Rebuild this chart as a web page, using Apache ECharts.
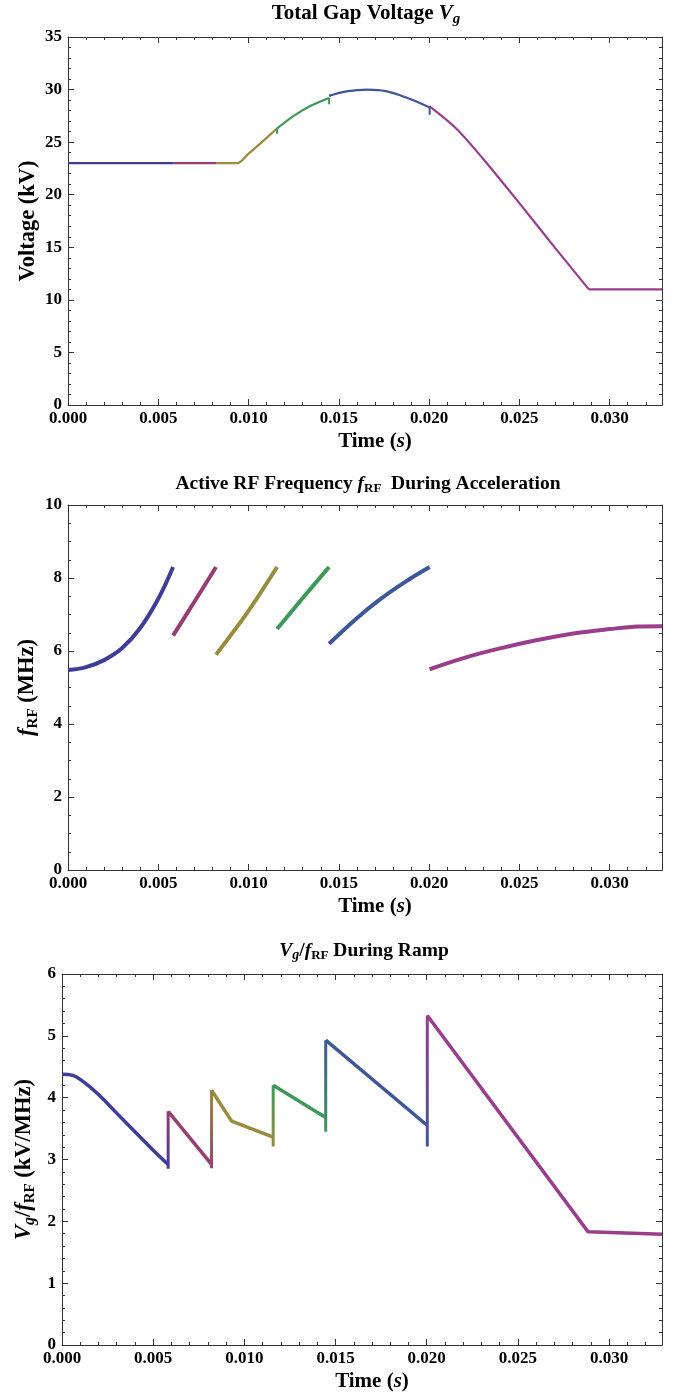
<!DOCTYPE html>
<html>
<head>
<meta charset="utf-8">
<script src="https://cdn.jsdelivr.net/npm/echarts@6/dist/echarts.min.js"></script>
<style>
  html, body { margin: 0; padding: 0; background: #fff; }
  #main { width: 677px; height: 1397px; }
</style>
</head>
<body>
<div id="main"></div>
<script>
// ---- data (time in s) ----
var XMAX = 0.0329;
var timeTicks = [0, 0.005, 0.010, 0.015, 0.020, 0.025, 0.030];
var vgTicks = [0, 5, 10, 15, 20, 25, 30, 35];
var frTicks = [0, 2, 4, 6, 8, 10];
var ratioTicks = [0, 1, 2, 3, 4, 5, 6];

// total gap voltage (kV)
var vgBlue1   = [[0, 23], [0.00582, 23]];
var vgMagenta = [[0.00582, 23], [0.0082, 23]];
var vgOlive   = [[0.0082, 23], [0.00936, 23], [0.0100, 23.9], [0.0108, 25.1], [0.01158, 26.3]];
var vgGreen   = [[0.01158, 26.3], [0.0125, 27.5], [0.0135, 28.5], [0.01446, 29.2]];
var vgBlue2   = [[0.01446, 29.4], [0.0155, 29.85], [0.0166, 30.0], [0.0176, 29.85], [0.0188, 29.2], [0.02003, 28.3]];
var vgPurple  = [[0.02003, 28.4], [0.0215, 26.3], [0.023, 23.4], [0.025, 19.2], [0.027, 14.9], [0.02885, 11]];
var vgFlat    = [[0.02885, 11], [0.0329, 11]];
var vgHooks   = [[0.01158, 26.3, 25.8], [0.01446, 29.2, 28.6], [0.02003, 28.35, 27.6]];

// active RF frequency (MHz)
var frBlue1   = [[0, 5.48], [0.001, 5.56], [0.002, 5.75], [0.003, 6.08], [0.004, 6.63], [0.005, 7.43], [0.00582, 8.3]];
var frMagenta = [[0.00582, 6.42], [0.007, 7.35], [0.0082, 8.3]];
var frOlive   = [[0.0082, 5.9], [0.0100, 7.1], [0.01158, 8.3]];
var frGreen   = [[0.01158, 6.6], [0.0130, 7.45], [0.01446, 8.3]];
var frBlue2   = [[0.01446, 6.2], [0.0160, 6.9], [0.0173, 7.42], [0.0187, 7.9], [0.02003, 8.3]];
var frPurple  = [[0.02003, 5.5], [0.022, 5.82], [0.024, 6.08], [0.026, 6.3], [0.028, 6.48], [0.030, 6.6], [0.0316, 6.67], [0.0329, 6.68]];

// Vg / fRF (kV/MHz)
var rBlue1   = [[0, 4.38], [0.0006, 4.36], [0.0012, 4.25], [0.002, 4.05], [0.003, 3.75], [0.004, 3.45], [0.005, 3.15], [0.00582, 2.92]];
var rMagenta = [[0.00582, 3.78], [0.0082, 2.92]];
var rOlive   = [[0.0082, 4.12], [0.0093, 3.62], [0.01158, 3.36]];
var rGreen   = [[0.01158, 4.2], [0.01446, 3.68]];
var rBlue2   = [[0.01446, 4.93], [0.02003, 3.55]];
var rPurple  = [[0.02003, 5.33], [0.02885, 1.83], [0.0329, 1.79]];
var rJumps   = [[0.00582, 2.85, 3.78], [0.0082, 2.86, 4.12], [0.01158, 3.21, 4.2], [0.01446, 3.45, 4.93], [0.02003, 3.21, 5.33]];

// mathematica default plot colours
var BLUE = '#3e3d99', MAG = '#993d71', OLIVE = '#998d3d', GREEN = '#3d9958', BLUE2 = '#3d5799', PURPLE = '#993d8c';

var FONT = 'Liberation Serif';
var AXC = '#333';

function minors(min, max, step) {
  var out = [];
  for (var v = min; v <= max + 1e-12; v += step) out.push(Math.round(v * 1e6) / 1e6);
  return out;
}

// rich text styles for a given base size (subscripts sit lower via bottom alignment)
function makeRich(size) {
  var lh = Math.round(size * 1.18);
  var ss = Math.round(size * 0.66);
  return {
    b: { fontFamily: FONT, fontWeight: 'bold', fontSize: size, lineHeight: lh, color: '#000' },
    i: { fontFamily: FONT, fontWeight: 'bold', fontStyle: 'italic', fontSize: size, lineHeight: lh, color: '#000' },
    si: { fontFamily: FONT, fontWeight: 'bold', fontStyle: 'italic', fontSize: ss + 1, lineHeight: ss + 1, verticalAlign: 'bottom', color: '#000' },
    s: { fontFamily: FONT, fontWeight: 'bold', fontSize: ss, lineHeight: ss + 1, verticalAlign: 'bottom', color: '#000' }
  };
}
var richX = makeRich(21);
var richY = makeRich(22.5);

var xAxes = [], yAxes = [];

function frame(gi, ymin, ymax, yMajor, yMinor, yName, yGap) {
  var xMinor = minors(0, XMAX, 0.001);
  var base = { gridIndex: gi, type: 'value', splitLine: { show: false } };
  function ax(extra) { return Object.assign({}, base, extra); }
  var line = { show: true, onZero: false, lineStyle: { color: AXC, width: 1 } };
  var noLine = { show: false, onZero: false };
  var labStyle = { fontFamily: FONT, fontWeight: 'bold', fontSize: 17, color: '#000' };
  // bottom major with labels
  xAxes.push(ax({ min: 0, max: XMAX, position: 'bottom', axisLine: line,
    axisTick: { inside: true, length: 6, customValues: timeTicks, lineStyle: { color: AXC } },
    axisLabel: Object.assign({ customValues: timeTicks, margin: 5, formatter: function (v) { return v.toFixed(3); } }, labStyle),
    name: '{b|Time (}{i|s}{b|)}', nameLocation: 'middle', nameGap: 24,
    nameTextStyle: { rich: richX, padding: [0, 0, 0, 20] } }));
  var xMain = xAxes.length - 1;
  xAxes.push(ax({ min: 0, max: XMAX, position: 'bottom', axisLine: noLine,
    axisTick: { inside: true, length: 3, customValues: xMinor, lineStyle: { color: AXC } }, axisLabel: { show: false } }));
  xAxes.push(ax({ min: 0, max: XMAX, position: 'top', axisLine: line,
    axisTick: { inside: true, length: 6, customValues: timeTicks, lineStyle: { color: AXC } }, axisLabel: { show: false } }));
  xAxes.push(ax({ min: 0, max: XMAX, position: 'top', axisLine: noLine,
    axisTick: { inside: true, length: 3, customValues: xMinor, lineStyle: { color: AXC } }, axisLabel: { show: false } }));

  yAxes.push(ax({ min: ymin, max: ymax, position: 'left', axisLine: line,
    axisTick: { inside: true, length: 6, customValues: yMajor, lineStyle: { color: AXC } },
    axisLabel: Object.assign({ customValues: yMajor, margin: 6 }, labStyle),
    name: yName, nameLocation: 'middle', nameGap: yGap, nameMoveOverlap: false, nameTextStyle: { rich: richY } }));
  var yMain = yAxes.length - 1;
  yAxes.push(ax({ min: ymin, max: ymax, position: 'left', axisLine: noLine,
    axisTick: { inside: true, length: 3, customValues: yMinor, lineStyle: { color: AXC } }, axisLabel: { show: false } }));
  yAxes.push(ax({ min: ymin, max: ymax, position: 'right', axisLine: line,
    axisTick: { inside: true, length: 6, customValues: yMajor, lineStyle: { color: AXC } }, axisLabel: { show: false } }));
  yAxes.push(ax({ min: ymin, max: ymax, position: 'right', axisLine: noLine,
    axisTick: { inside: true, length: 3, customValues: yMinor, lineStyle: { color: AXC } }, axisLabel: { show: false } }));
  return { x: xMain, y: yMain };
}

var a0 = frame(0, 0, 35, vgTicks, minors(0, 35, 1), '{b|Voltage (kV)}', 26);
var a1 = frame(1, 0, 10, frTicks, minors(0, 10, 0.5), '{i|f}{s|RF}{b| (MHz)}', 27);
var a2 = frame(2, 0, 6, ratioTicks, minors(0, 6, 0.2), '{i|V}{si|g}{b|/}{i|f}{s|RF}{b| (kV/MHz)}', 24);

var series = [];
function seg(ax, data, color, width, smooth) {
  series.push({ type: 'line', xAxisIndex: ax.x, yAxisIndex: ax.y, data: data, showSymbol: false, symbol: 'none',
    smooth: smooth || false, lineStyle: { color: color, width: width }, silent: true, z: 3 });
}

// plot 1
seg(a0, vgBlue1, BLUE, 2.2);
seg(a0, vgMagenta, MAG, 2.2);
seg(a0, vgOlive, OLIVE, 2.2, 0.3);
seg(a0, vgGreen, GREEN, 2.2, 0.3);
seg(a0, vgBlue2, BLUE2, 2.2, 0.4);
seg(a0, vgPurple, PURPLE, 2.2, 0.3);
seg(a0, vgFlat, PURPLE, 2.2);
var hookColors = [GREEN, GREEN, BLUE2];
vgHooks.forEach(function (h, k) { seg(a0, [[h[0], h[1]], [h[0], h[2]]], hookColors[k], 2); });

// plot 2
seg(a1, frBlue1, BLUE, 4, 0.4);
seg(a1, frMagenta, MAG, 4, 0.3);
seg(a1, frOlive, OLIVE, 4, 0.3);
seg(a1, frGreen, GREEN, 4, 0.3);
seg(a1, frBlue2, BLUE2, 4, 0.4);
seg(a1, frPurple, PURPLE, 4, 0.4);

// plot 3
seg(a2, rBlue1, BLUE, 3.5, 0.4);
seg(a2, rMagenta, MAG, 3.5);
seg(a2, rOlive, OLIVE, 3.5);
seg(a2, rGreen, GREEN, 3.5);
seg(a2, rBlue2, BLUE2, 3.5);
seg(a2, rPurple, PURPLE, 3.5);
var jumpCols = [[BLUE, MAG], [MAG, OLIVE], [OLIVE, GREEN], [GREEN, BLUE2], [BLUE2, PURPLE]];
rJumps.forEach(function (j, k) {
  var grad = new echarts.graphic.LinearGradient(0, 0, 0, 1, [
    { offset: 0, color: jumpCols[k][1] }, { offset: 1, color: jumpCols[k][0] }]);
  seg(a2, [[j[0], j[1]], [j[0], j[2]]], grad, 3);
});

function title(text, x, y, size) {
  return { type: 'text', x: x, y: y, style: { text: text, rich: makeRich(size), align: 'center', verticalAlign: 'middle',
    fontFamily: FONT, fontWeight: 'bold', fontSize: size, fill: '#000' } };
}

var chart = echarts.init(document.getElementById('main'));
chart.setOption({
  animation: false,
  backgroundColor: '#fff',
  grid: [
    { left: 68, top: 37, width: 594, height: 368 },
    { left: 68, top: 505, width: 594, height: 365 },
    { left: 62, top: 974, width: 600, height: 371 }
  ],
  xAxis: xAxes,
  yAxis: yAxes,
  series: series,
  graphic: [
    title('{b|Total Gap Voltage }{i|V}{si|g}', 366, 14, 21),
    title('{b|Active RF Frequency }{i|f}{s|RF}{b|  During Acceleration}', 368, 484, 19.5),
    title('{i|V}{si|g}{b|/}{i|f}{s|RF}{b| During Ramp}', 364, 951, 19.5)
  ]
});
</script>
</body>
</html>
